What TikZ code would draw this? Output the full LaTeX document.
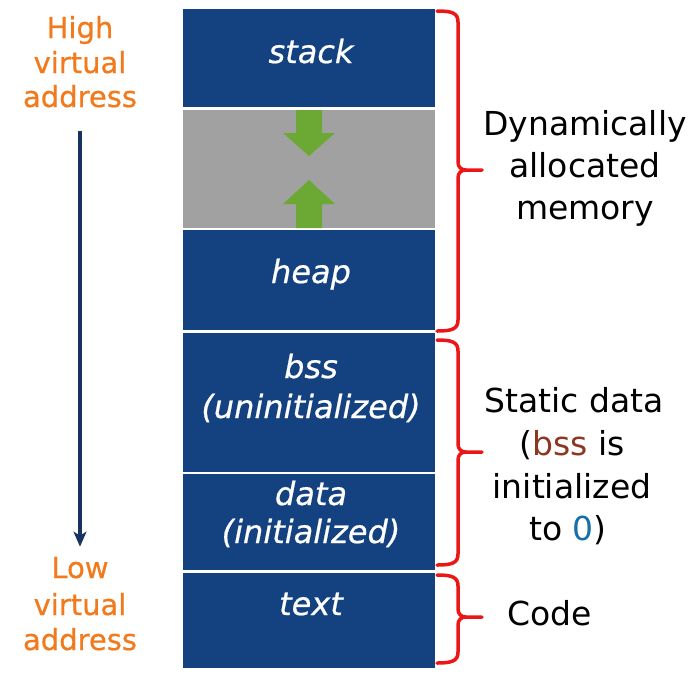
\documentclass[tikz,border=0pt]{standalone}
\usepackage{fontspec}
\setmainfont{DejaVu Sans}
\newfontfamily\heavyfont[FakeBold=0.6]{DejaVu Sans}
\usetikzlibrary{arrows.meta}
\definecolor{blockblue}{RGB}{20,66,128}
\definecolor{gapgray}{RGB}{161,161,161}
\definecolor{growgreen}{RGB}{108,168,52}
\definecolor{bracered}{RGB}{236,22,22}
\definecolor{addrorange}{RGB}{242,122,28}
\definecolor{addrnavy}{RGB}{26,50,95}
\definecolor{bssbrown}{RGB}{140,56,32}
\definecolor{zeroblue}{RGB}{22,110,170}
\newcommand\membrace[3]{%
  \draw[bracepath] (437,#1) .. controls ({452},#1) and (458,{#1+2}) .. (458,{#1+11})
    -- (458,{#2-8}) .. controls (458,{#2-3}) and (461,#2) .. (466,#2) -- (482,#2)
    -- (466,#2) .. controls (461,#2) and (458,{#2+3}) .. (458,{#2+8})
    -- (458,{#3-11}) .. controls (458,{#3-2}) and (452,#3) .. (437,#3);}
\begin{document}
\begin{tikzpicture}[x=1pt,y=-1pt,
  blockbox/.style={fill=blockblue, draw=none, inner sep=0pt, minimum width=252pt},
  gapbox/.style={fill=gapgray, draw=none, inner sep=0pt, minimum width=252pt},
  blocktext/.style={text=white, font=\heavyfont\fontsize{32}{38}\selectfont\itshape, anchor=base, inner sep=0pt},
  addrtext/.style={text=addrorange, font=\heavyfont\fontsize{29}{35}\selectfont, anchor=base, inner sep=0pt},
  labeltext/.style={text=black, font=\fontsize{33}{40}\selectfont, anchor=base, inner sep=0pt},
  bracepath/.style={draw=bracered, line width=3.5pt, line cap=round, line join=round},
  addrarrow/.style={draw=addrnavy, line width=3.5pt, -{Stealth[length=15pt,width=13pt,inset=4pt]}},
  growarrow/.style={fill=growgreen, draw=none}]
\useasboundingbox (0,0) rectangle (688,678);
\fill[white] (0,0) rectangle (688,678);

% memory blocks
\node[blockbox, minimum height=98pt]  (stackbox) at (309,58) {};
\node[gapbox,   minimum height=118pt] (freebox)  at (309,169) {};
\node[blockbox, minimum height=100pt] (heapbox)  at (309,280) {};
\node[blockbox, minimum height=139pt] (bssbox)   at (309,402.5) {};
\node[blockbox, minimum height=96pt]  (databox)  at (309,522) {};
\node[blockbox, minimum height=95pt]  (textbox)  at (309,620.5) {};

% block labels
\node[blocktext] (stacklbl) at (311,63) {stack};
\node[blocktext] (heaplbl)  at (311,283) {heap};
\node[blocktext] (bsslbl)   at (311,378) {bss};
\node[blocktext] (bsssub)   at (311,418) {(uninitialized)};
\node[blocktext] (datalbl)  at (311,505) {data};
\node[blocktext] (datasub)  at (311,543) {(initialized)};
\node[blocktext] (textlbl)  at (311,615) {text};

% green growth arrows
\fill[growarrow] (296,110) -- (322,110) -- (322,133) -- (335,133) -- (309,156) -- (283,133) -- (296,133) -- cycle;
\fill[growarrow] (296,228) -- (322,228) -- (322,204) -- (335,204) -- (309,180) -- (283,204) -- (296,204) -- cycle;

% address labels
\node[addrtext] (hihigh) at (80,38) {High};
\node[addrtext] (hivirt) at (80,73) {virtual};
\node[addrtext] (hiaddr) at (80,107) {address};
\node[addrtext] (lolow)  at (80,578) {Low};
\node[addrtext] (lovirt) at (80,615) {virtual};
\node[addrtext] (loaddr) at (80,650) {address};
\draw[addrarrow, shorten <=23pt, shorten >=10pt] (hiaddr.south) -- (lolow.north);

% braces
\membrace{11}{170}{331}
\membrace{340}{452}{565}
\membrace{575}{617}{663}

% right labels
\node[labeltext] (dyn1) at (585,135) {Dynamically};
\node[labeltext] (dyn2) at (585,177) {allocated};
\node[labeltext] (dyn3) at (585,219) {memory};
\node[labeltext] (st1) at (574,412) {Static data};
\node[labeltext] (st2) at (572,455) {(\textcolor{bssbrown}{bss} is};
\node[labeltext] (st3) at (572,498) {initialized};
\node[labeltext] (st4) at (568,540) {to \textcolor{zeroblue}{0})};
\node[labeltext] (code) at (550,625) {Code};
\end{tikzpicture}
\end{document}
